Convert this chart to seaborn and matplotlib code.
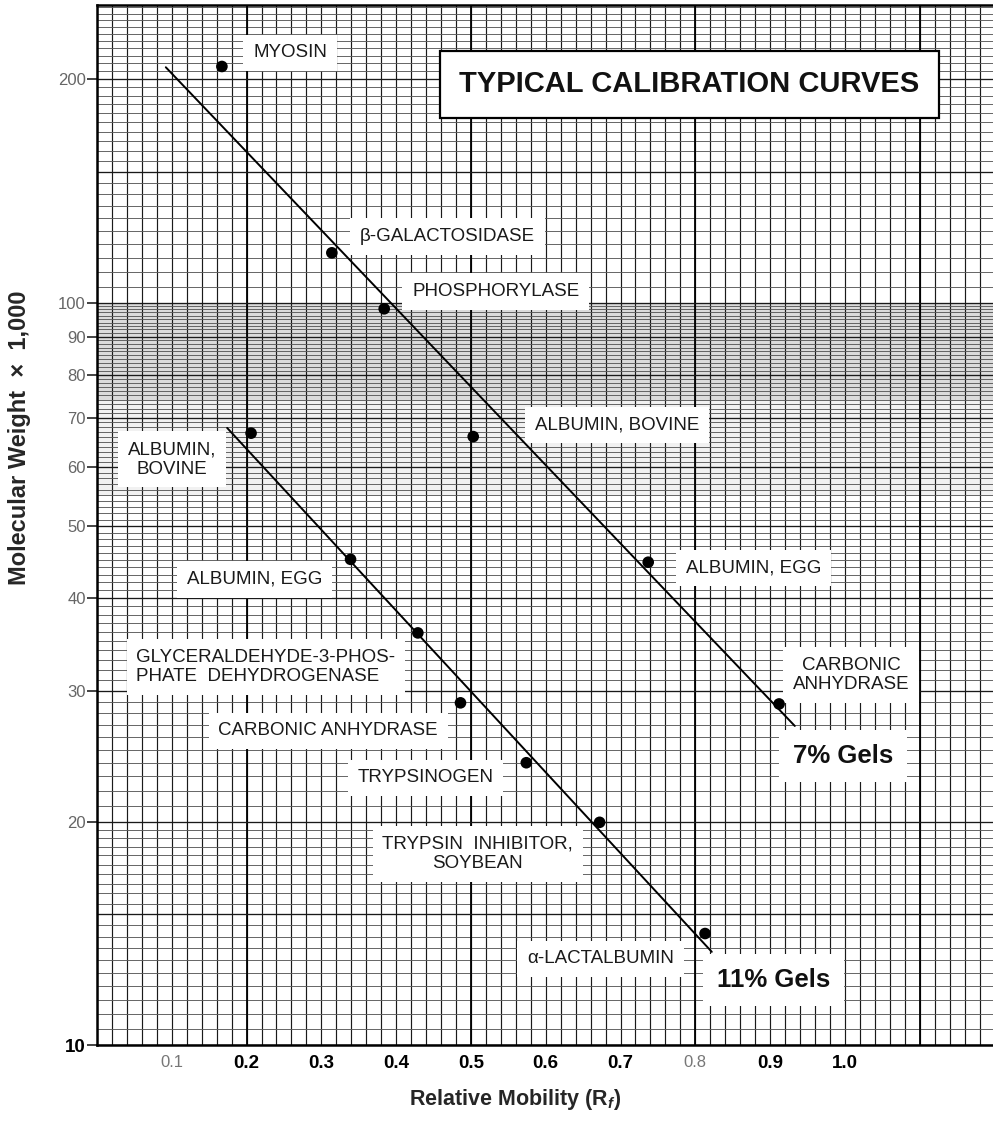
import numpy as np
import seaborn as sns
import matplotlib.pyplot as plt
from matplotlib.ticker import NullLocator


# 7% gels: relative mobility (Rf) and molecular weight (x 1,000)
GEL7_RF = [0.167, 0.314, 0.384, 0.503, 0.737, 0.912]
GEL7_MW = [208, 116.7, 98.1, 66.0, 44.7, 28.8]
# hand drawn calibration line, its two ends
GEL7_LINE_RF = [0.092, 0.933]
GEL7_LINE_MW = [207.5, 26.9]

# 11% gels
GEL11_RF = [0.206, 0.339, 0.429, 0.486, 0.574, 0.672, 0.813]
GEL11_MW = [66.7, 45.1, 35.9, 28.9, 24.0, 19.95, 14.13]
GEL11_LINE_RF = [0.174, 0.822]
GEL11_LINE_MW = [67.8, 13.35]

X_TICKS = [0.1, 0.2, 0.3, 0.4, 0.5, 0.6, 0.7, 0.8, 0.9, 1.0]
X_TICK_LABELS = ["0.1", "0.2", "0.3", "0.4", "0.5", "0.6", "0.7", "0.8", "0.9", "1.0"]
Y_TICKS = [10, 20, 30, 40, 50, 60, 70, 80, 90, 100, 200]
Y_TICK_LABELS = ["10", "20", "30", "40", "50", "60", "70", "80", "90", "100", "200"]

# protein labels: text, x, y (data coords), alignment of the lines
LABELS = [
    ("MYOSIN", 0.258, 217, "center"),
    ("β-GALACTOSIDASE", 0.469, 122.7, "center"),
    ("PHOSPHORYLASE", 0.533, 103.5, "center"),
    ("ALBUMIN, BOVINE", 0.695, 68.4, "center"),
    ("ALBUMIN, EGG", 0.878, 43.9, "center"),
    ("CARBONIC\nANHYDRASE", 1.008, 31.5, "center"),
    ("ALBUMIN,\nBOVINE", 0.100, 61.5, "center"),
    ("ALBUMIN, EGG", 0.211, 42.4, "center"),
    ("GLYCERALDEHYDE-3-PHOS-\nPHATE  DEHYDROGENASE", 0.226, 32.3, "left"),
    ("CARBONIC ANHYDRASE", 0.309, 26.5, "center"),
    ("TRYPSINOGEN", 0.439, 22.9, "center"),
    ("TRYPSIN  INHIBITOR,\nSOYBEAN", 0.509, 18.1, "center"),
    ("α-LACTALBUMIN", 0.673, 13.06, "center"),
]

sns.set_style("white")
plt.rcParams['font.family'] = ['Liberation Sans', 'DejaVu Sans']
plt.rcParams['mathtext.fontset'] = 'custom'
plt.rcParams['mathtext.rm'] = 'Liberation Sans:bold'
plt.rcParams['mathtext.it'] = 'Liberation Sans:bold:italic'

fig = plt.figure(figsize=(9.93, 11.25), dpi=100)
ax = fig.add_axes([97 / 993, 1 - 1045 / 1125, 1 - 97 / 993, 1040 / 1125])
ax.set_yscale("log")
ax.set_xlim(0, 1.198)
ax.set_ylim(10, 251.7)

# graph paper rulings
ax.axhspan(74, 100, color="#b0b0b0", alpha=0.45, lw=0, zorder=0.2)
ax.axhspan(55, 74, color="#c8c8c8", alpha=0.25, lw=0, zorder=0.2)
ax.vlines(np.arange(0, 1.21, 0.02), 10, 260, color="#1a1a1a", lw=0.85, zorder=0.5)
ax.vlines([0.2, 0.5, 0.8, 1.1], 10, 260, color="#000000", lw=1.3, zorder=0.6)
hy = np.concatenate([np.arange(10, 20, 0.5), np.arange(20, 100, 1),
                     np.arange(100, 255, 5)])
ax.hlines(hy, 0, 1.25, color="#5a5a5a", lw=0.65, zorder=0.5)
ax.hlines([10, 15, 20, 30, 40, 50, 60, 70, 80, 90, 100, 150, 200], 0, 1.25,
          color="#1a1a1a", lw=0.95, zorder=0.6)

# calibration lines and points
sns.lineplot(x=GEL7_LINE_RF, y=GEL7_LINE_MW, color="black", lw=1.4, ax=ax, zorder=5)
sns.lineplot(x=GEL11_LINE_RF, y=GEL11_LINE_MW, color="black", lw=1.4, ax=ax, zorder=5)
sns.scatterplot(x=GEL7_RF, y=GEL7_MW, color="black", s=70, edgecolor="none",
                ax=ax, zorder=6)
sns.scatterplot(x=GEL11_RF, y=GEL11_MW, color="black", s=70, edgecolor="none",
                ax=ax, zorder=6)

box = dict(facecolor="white", edgecolor="none", pad=7)
for text, x, y, align in LABELS:
    ax.text(x, y, text, ha="center", va="center", multialignment=align,
            fontsize=13.5, color="#1a1a1a", linespacing=1.2, bbox=box, zorder=4)

ax.text(0.792, 196.8, "TYPICAL CALIBRATION CURVES", ha="center", va="center",
        fontsize=21, fontweight="bold", color="#111111", zorder=4,
        bbox=dict(facecolor="white", edgecolor="black", lw=1.6, pad=14))
ax.text(0.997, 24.5, "7% Gels", ha="center", va="center", fontsize=18.5,
        fontweight="bold", color="#111111", zorder=4,
        bbox=dict(facecolor="white", edgecolor="none", pad=10))
ax.text(0.905, 12.24, "11% Gels", ha="center", va="center", fontsize=18.5,
        fontweight="bold", color="#111111", zorder=4,
        bbox=dict(facecolor="white", edgecolor="none", pad=10))

# axes
ax.yaxis.set_minor_locator(NullLocator())
ax.xaxis.set_minor_locator(NullLocator())
ax.set_yticks(Y_TICKS, Y_TICK_LABELS)
ax.set_xticks(X_TICKS, X_TICK_LABELS)
ax.tick_params(axis="y", which="major", length=7, width=1.2, direction="out",
               color="#222222", pad=1, labelsize=12, labelcolor="#666666", left=True)
ax.tick_params(axis="x", length=0, pad=7, labelsize=13.5)
for lab in ax.get_yticklabels():
    if lab.get_text() == "10":
        lab.set_fontweight("bold")
        lab.set_color("black")
        lab.set_fontsize(13.5)
for lab in ax.get_xticklabels():
    if lab.get_text() in ("0.1", "0.8"):
        lab.set_color("#777777")
        lab.set_fontsize(12)
    else:
        lab.set_fontweight("bold")
        lab.set_color("black")

for side in ["left", "top", "bottom"]:
    ax.spines[side].set_visible(True)
    ax.spines[side].set_color("black")
    ax.spines[side].set_linewidth(1.8)
ax.spines["right"].set_visible(False)

fig.text(20 / 993, 1 - 438 / 1125, "Molecular Weight  ×  1,000", rotation=90,
         ha="center", va="center", fontsize=17, fontweight="bold")
fig.text(515 / 993, 1 - 1100 / 1125, r"Relative Mobility (R$_{\it f}$)",
         ha="center", va="center", fontsize=15.5, fontweight="bold")

fig.savefig("out.png", dpi=100)
